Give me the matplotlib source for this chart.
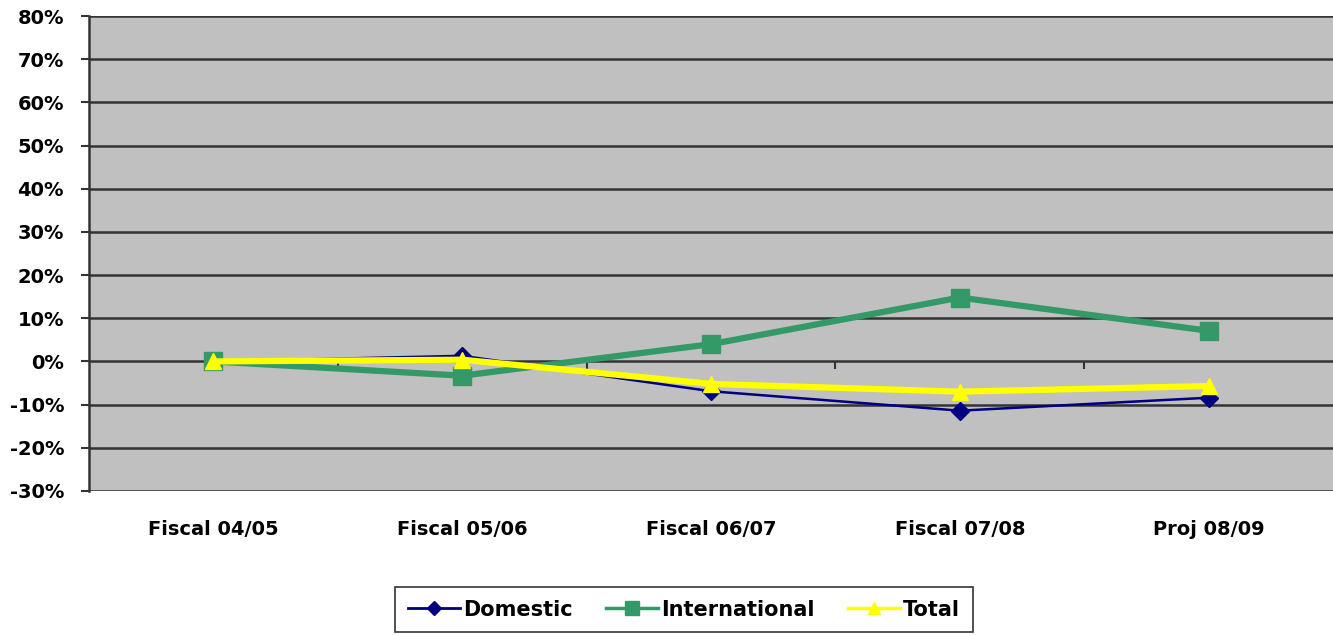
import matplotlib
matplotlib.use("Agg")
import matplotlib.pyplot as plt
from matplotlib.ticker import FuncFormatter, FixedLocator

categories = ["Fiscal 04/05", "Fiscal 05/06", "Fiscal 06/07", "Fiscal 07/08", "Proj 08/09"]
domestic = [0.0, 1.3, -6.9, -11.4, -8.4]
international = [0.0, -3.3, 4.0, 14.8, 7.1]
total = [0.0, 0.4, -5.2, -7.0, -5.7]
y_ticks = list(range(-30, 81, 10))

plt.rcParams['font.family'] = ['DejaVu Sans']

fig = plt.figure(figsize=(13.33, 6.35), dpi=100)
ax = fig.add_axes([0.0668, 0.2268, 0.9332, 0.748])
ax.set_facecolor('#C0C0C0')

x = list(range(len(categories)))
ax.plot(x, domestic, color='#000080', lw=1.8, marker='D', markersize=9, label='Domestic', zorder=3)
ax.plot(x, international, color='#339966', lw=4.5, marker='s', markersize=12.5, label='International', zorder=4)
ax.plot(x, total, color='#FFFF00', lw=4.5, marker='^', markersize=12, label='Total', zorder=5)

ax.set_xlim(-0.5, len(categories) - 0.5)
ax.set_ylim(-30, 80)
ax.set_yticks(y_ticks)
ax.yaxis.set_major_formatter(FuncFormatter(lambda v, p: f"{int(v)}%"))
for v in y_ticks:
    ax.axhline(v, color='#333333', lw=1.8, zorder=1)

ax.set_xticks(x)
ax.set_xticklabels(categories, fontsize=14, fontweight='bold')
ax.tick_params(axis='x', length=0, pad=21)
ax.tick_params(axis='y', length=6, width=1.5, color='#333333', pad=12, labelsize=14)
for lab in ax.get_yticklabels():
    lab.set_fontweight('bold')

for s in ['top', 'right', 'bottom']:
    ax.spines[s].set_visible(False)
ax.spines['left'].set_color('#333333')
ax.spines['left'].set_linewidth(1.8)

# category axis crossing at 0%
sec = ax.secondary_xaxis(30 / 110)
sec.xaxis.set_major_locator(FixedLocator([i + 0.5 for i in range(len(categories) - 1)]))
sec.tick_params(axis='x', direction='out', length=6, width=1.5, color='#333333', labelbottom=False, labeltop=False)
sec.spines['bottom'].set_visible(False)
sec.spines['top'].set_visible(False)
sec.xaxis.set_ticks_position('bottom')
sec.set_xticklabels([])

leg = fig.legend(loc='center', bbox_to_anchor=(0.513, 0.040), ncol=3, frameon=True, fancybox=False,
                 prop={'weight': 'bold', 'size': 15}, handlelength=2.5, handletextpad=0.15,
                 columnspacing=1.6, borderpad=0.6, markerscale=0.75)
leg.get_frame().set_edgecolor('black')
leg.get_frame().set_linewidth(1.2)
for h in leg.get_lines():
    h.set_linewidth(2.5 if h.get_color() != '#000080' else 2.0)

fig.savefig('out.png', dpi=100)
